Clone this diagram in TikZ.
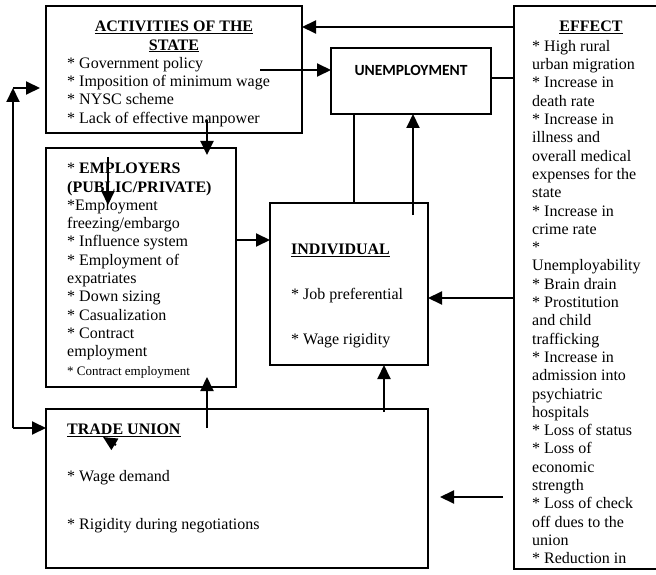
\documentclass[tikz,border=0pt]{standalone}
\usepackage{fontspec}
\setmainfont{Liberation Serif}
\newfontfamily\calib{Carlito}
\usetikzlibrary{arrows.meta}
\begin{document}
\begin{tikzpicture}[x=1pt,y=-1pt,
  box/.style={draw, line width=1.6pt, anchor=north west, inner sep=0pt, outer sep=0pt},
  arr/.style={line width=2pt, -{Triangle[length=14pt,width=13pt]}},
  ln/.style={line width=2pt},
  txt/.style={anchor=north west, inner sep=0pt, align=left, font=\fontsize{16}{18.3}\selectfont},
  ttl/.style={anchor=north, inner sep=0pt, align=center, font=\fontsize{16}{18.3}\selectfont\bfseries}]
\useasboundingbox (0,0) rectangle (656,575);
\fill[white] (0,0) rectangle (656,575);
% boxes
\node[box, minimum width=256, minimum height=127] (act) at (46,6) {};
\node[box, minimum width=160, minimum height=66] (unemp) at (331,48) {};
\node[box, minimum width=190, minimum height=239] (emp) at (46,148) {};
\node[box, minimum width=158, minimum height=162] (ind) at (270,203) {};
\node[box, minimum width=382, minimum height=159] (tu) at (46,409) {};
\node[box, draw=none, minimum width=142, minimum height=563] (eff) at (514,6) {};
\draw[line width=1.6pt] (eff.north east) -- (eff.north west) -- (eff.south west) -- (eff.south east);
% texts
\node[ttl] (actT) at (174,21) {\underline{ACTIVITIES OF THE}\\\underline{STATE}};
\node[txt] (actX) at (67,57) {* Government policy\\{}* Imposition of minimum wage\\{}* NYSC scheme\\{}* Lack of effective manpower};
\node[inner sep=0pt, font=\calib\bfseries\fontsize{15.5}{18}\selectfont] (unT) at (411,70) {UNEMPLOYMENT};
\node[txt] (empX) at (67,163) {* \textbf{EMPLOYERS}\\\textbf{(PUBLIC/PRIVATE)}\\{}*Employment\\freezing/embargo\\{}* Influence system\\{}* Employment of\\expatriates\\{}* Down sizing\\{}* Casualization\\{}* Contract\\employment\\{\fontsize{13}{17}\selectfont * Contract employment}};
\node[txt] (indX) at (291,244) {\textbf{\underline{INDIVIDUAL}}\\[26.7pt]{}* Job preferential\\[26.7pt]{}* Wage rigidity};
\node[txt] (tuX) at (67,424) {\textbf{\underline{TRADE UNION}}\\[28.7pt]{}* Wage demand\\[29.7pt]{}* Rigidity during negotiations};
\node[ttl] (effT) at (591,21) {\underline{EFFECT}};
\node[txt] (effX) at (532,40) {* High rural\\urban migration\\{}* Increase in\\death rate\\{}* Increase in\\illness and\\overall medical\\expenses for the\\state\\{}* Increase in\\crime rate\\{}*\\Unemployability\\{}* Brain drain\\{}* Prostitution\\and child\\trafficking\\{}* Increase in\\admission into\\psychiatric\\hospitals\\{}* Loss of status\\{}* Loss of\\economic\\strength\\{}* Loss of check\\off dues to the\\union\\{}* Reduction in};
% helper coordinates
\coordinate (y27) at (0,27);
\coordinate (y78) at (0,78);
\coordinate (y240) at (0,240);
\coordinate (y298) at (0,298);
\coordinate (a2s) at (260,70);
\coordinate (x354) at (354,0);
\coordinate (a5s) at (413,215);
\coordinate (a6s) at (207,120);
\coordinate (a6e) at (207,155);
\coordinate (a7s) at (108,157);
\coordinate (a7e) at (108,205);
\coordinate (a10s) at (207,428);
\coordinate (a10e) at (207,377);
\coordinate (a11s) at (384,412);
\coordinate (l1) at (13,428);
\coordinate (l2) at (13,88);
\coordinate (l3) at (40,88);
\coordinate (a13s) at (116,445);
\coordinate (a13e) at (103,437);
\coordinate (a14s) at (503,497);
\coordinate (a14e) at (440,497);
% connectors
\draw[arr] (eff.west |- y27) -- (act.east |- y27);
\draw[arr] (a2s) -- (unemp.west |- a2s);
\draw[ln] (unemp.east |- y78) -- (eff.west |- y78);
\draw[line width=1.6pt] (unemp.south -| x354) -- (ind.north -| x354);
\draw[arr] (a5s) -- (unemp.south -| a5s);
\draw[arr] (a6s) -- (a6e);
\draw[arr] (a7s) -- (a7e);
\draw[arr] (emp.east |- y240) -- (ind.west |- y240);
\draw[arr] (eff.west |- y298) -- (ind.east |- y298);
\draw[arr] (a10s) -- (a10e);
\draw[arr] (a11s) -- (ind.south -| a11s);
\draw[arr] (l1) -- (l2);
\draw[arr] (l2) -- (l3);
\draw[arr] (l1) -- (tu.west |- l1);
\draw[arr] (a13s) -- (a13e);
\draw[arr] (a14s) -- (a14e);
\end{tikzpicture}
\end{document}
